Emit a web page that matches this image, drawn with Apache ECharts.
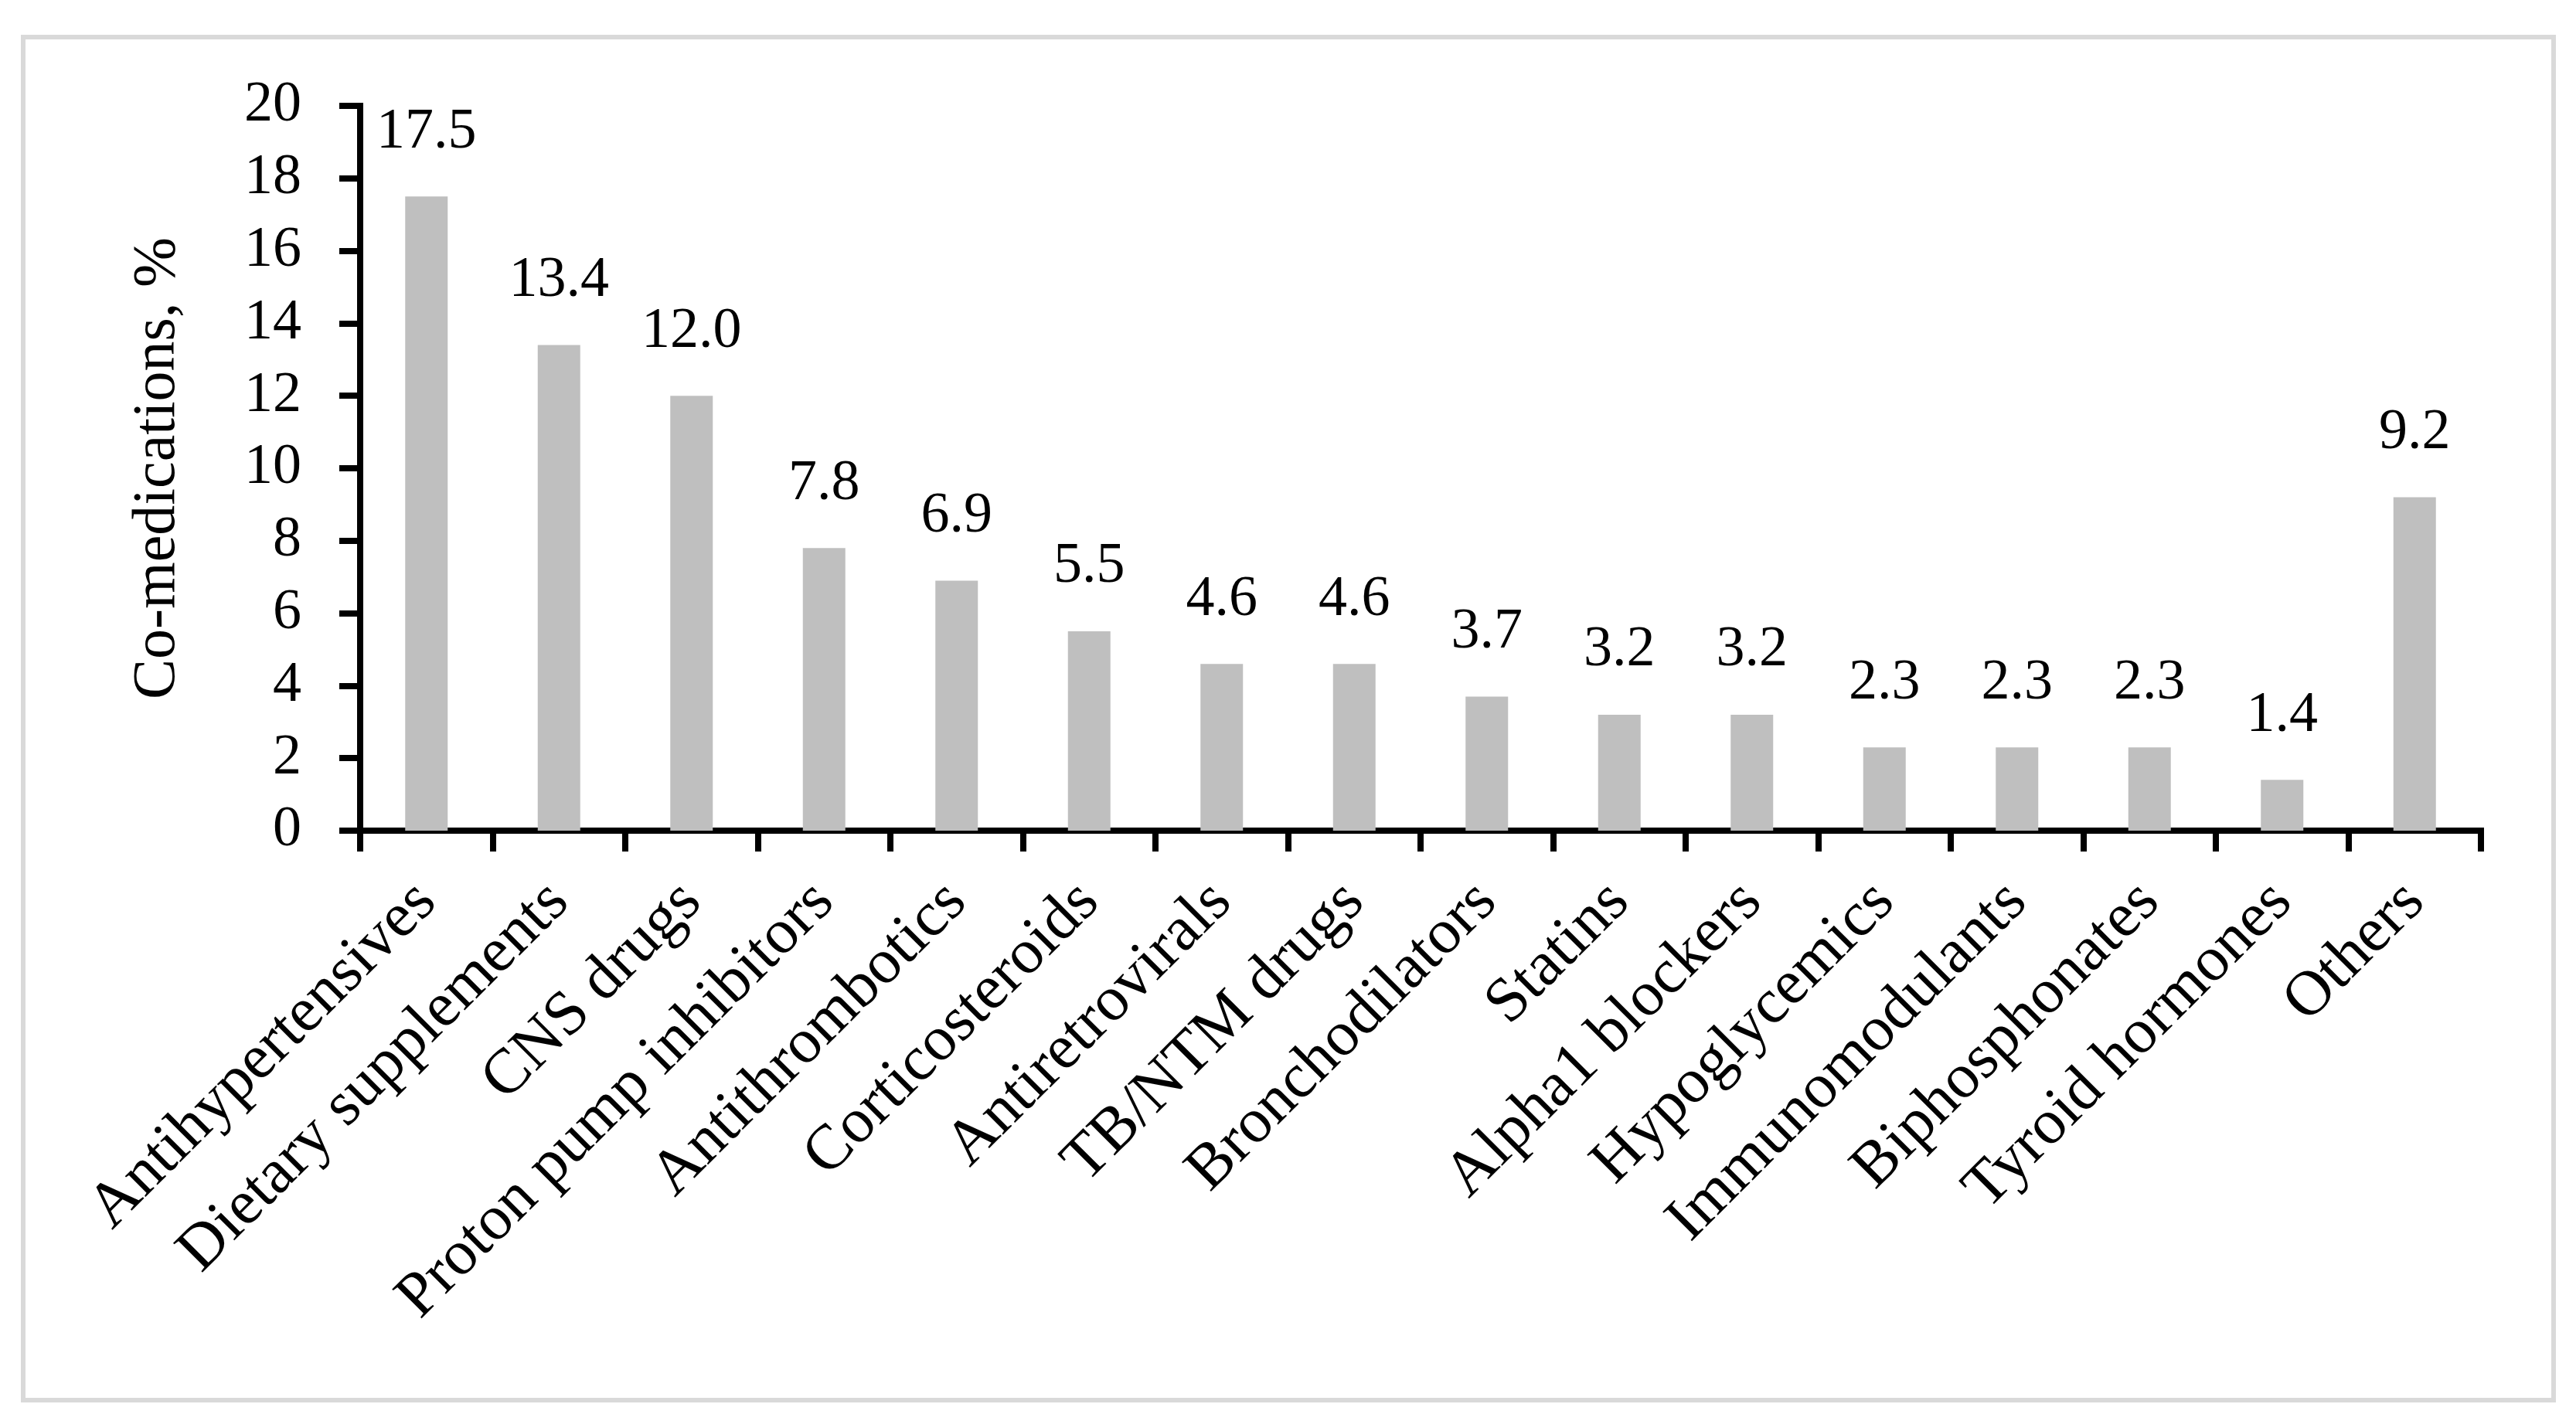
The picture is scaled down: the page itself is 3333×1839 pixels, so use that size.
<!DOCTYPE html>
<html>
<head>
<meta charset="utf-8">
<script src="https://cdn.jsdelivr.net/npm/echarts@6/dist/echarts.min.js"></script>
<style>
html,body{margin:0;padding:0;background:#fff;}
#chart{width:3333px;height:1839px;}
</style>
</head>
<body>
<div id="chart"></div>
<script>
const categories = ["Antihypertensives","Dietary supplements","CNS drugs","Proton pump inhibitors","Antithrombotics","Corticosteroids","Antiretrovirals","TB/NTM drugs","Bronchodilators","Statins","Alpha1 blockers","Hypoglycemics","Immunomodulants","Biphosphonates","Tyroid hormones","Others"];
const values = [17.5,13.4,12.0,7.8,6.9,5.5,4.6,4.6,3.7,3.2,3.2,2.3,2.3,2.3,1.4,9.2];
const yAxisName = "Co-medications, %";
const yMin = 0, yMax = 20, yStep = 2;

const FONT = '"Liberation Serif", "Times New Roman", serif';
const chart = echarts.init(document.getElementById('chart'), null, {renderer:'canvas'});
chart.setOption({
  backgroundColor:'#ffffff',
  animation:false,
  graphic:[{
    type:'rect', left:27, top:45,
    shape:{x:0,y:0,width:3274,height:1764},
    style:{fill:'none', stroke:'#d9d9d9', lineWidth:6},
    z:-10
  }],
  grid:{left:466, right:123, top:137, bottom:764, containLabel:false},
  xAxis:{
    type:'category', data:categories, boundaryGap:true,
    axisLine:{show:true, lineStyle:{color:'#000', width:8, cap:'square'}},
    axisTick:{show:true, length:27, inside:false, alignWithLabel:false, lineStyle:{color:'#000', width:8}},
    axisLabel:{interval:0, rotate:45, margin:80, color:'#000', fontFamily:FONT, fontSize:82},
    splitLine:{show:false}
  },
  yAxis:{
    type:'value', min:yMin, max:yMax, interval:yStep,
    name:yAxisName, nameLocation:'middle', nameGap:222, nameRotate:90,
    nameTextStyle:{color:'#000', fontFamily:FONT, fontSize:78},
    axisLine:{show:true, lineStyle:{color:'#000', width:8, cap:'square'}},
    axisTick:{show:true, length:27, lineStyle:{color:'#000', width:8}},
    axisLabel:{margin:76, color:'#000', fontFamily:FONT, fontSize:74},
    splitLine:{show:false}
  },
  series:[{
    type:'bar', data:values, barWidth:55,
    itemStyle:{color:'#bfbfbf'},
    label:{show:true, position:'top', distance:46, color:'#000', fontFamily:FONT, fontSize:74,
      formatter:p=>Number(p.value).toFixed(1)}
  }]
});
</script>
</body>
</html>
